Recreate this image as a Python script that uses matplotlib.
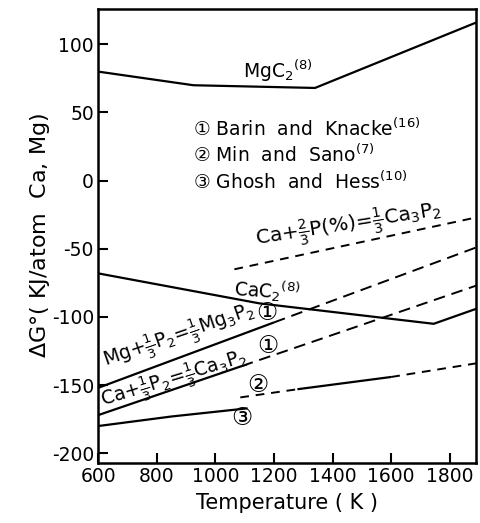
import matplotlib
matplotlib.use('Agg')
import matplotlib.pyplot as plt

plt.rcParams['font.family'] = ['DejaVu Sans', 'Noto Sans CJK SC']
plt.rcParams['mathtext.fontset'] = 'dejavusans'
plt.rcParams['axes.unicode_minus'] = False

# MgC2 (ref. 8)
mgc2_T = [600, 925, 1340, 1890]
mgc2_G = [80, 70, 68, 116]

# CaC2 (ref. 8)
cac2_T = [600, 1150, 1745, 1890]
cac2_G = [-68, -90, -105, -94]

# Mg + 1/3 P2 = 1/3 Mg3P2  (Barin and Knacke)
mgp_solid_T = [600, 1200]
mgp_solid_G = [-152, -104]
mgp_dash_T = [1200, 1890]
mgp_dash_G = [-104, -49]

# Ca + 1/3 P2 = 1/3 Ca3P2  (Barin and Knacke)
cap_solid_T = [600, 1090]
cap_solid_G = [-172, -136]
cap_dash_T = [1090, 1890]
cap_dash_G = [-136, -77]

# Min and Sano
min_dash1_T = [1085, 1280]
min_dash1_G = [-159, -153]
min_solid_T = [1280, 1600]
min_solid_G = [-153, -144]
min_dash2_T = [1600, 1890]
min_dash2_G = [-144, -134]

# Ghosh and Hess
gh_T = [600, 850, 1110]
gh_G = [-180, -173, -167]

# Ca + 2/3 P(%) = 1/3 Ca3P2
cap_pct_T = [1065, 1890]
cap_pct_G = [-65, -27]

fig = plt.figure(figsize=(4.81, 5.23), dpi=100)
ax = fig.add_axes([0.204, 0.115, 0.786, 0.868])

solid = dict(color='black', lw=1.6, solid_capstyle='butt')
dashed = dict(color='black', lw=1.4, linestyle=(0, (6, 3.5)))
short_dashed = dict(color='black', lw=1.4, linestyle=(0, (4.5, 3.5)))

ax.plot(mgc2_T, mgc2_G, **solid)
ax.plot(cac2_T, cac2_G, **solid)
ax.plot(mgp_solid_T, mgp_solid_G, **solid)
ax.plot(mgp_dash_T, mgp_dash_G, **dashed)
ax.plot(cap_solid_T, cap_solid_G, **solid)
ax.plot(cap_dash_T, cap_dash_G, **dashed)
ax.plot(min_dash1_T, min_dash1_G, **short_dashed)
ax.plot(min_solid_T, min_solid_G, **solid)
ax.plot(min_dash2_T, min_dash2_G, **short_dashed)
ax.plot(gh_T, gh_G, **solid)
ax.plot(cap_pct_T, cap_pct_G, **short_dashed)

ax.set_xlim(600, 1890)
ax.set_ylim(-207, 126)
ax.set_xticks([600, 800, 1000, 1200, 1400, 1600, 1800])
ax.set_yticks([-200, -150, -100, -50, 0, 50, 100])
ax.tick_params(direction='in', length=7, width=1.5, labelsize=13.5, pad=3)
for s in ax.spines.values():
    s.set_linewidth(1.8)

ax.set_xlabel('Temperature ( K )', fontsize=15, labelpad=5)
ax.set_ylabel(r'$\Delta$G°( KJ/atom  Ca, Mg)', fontsize=16, labelpad=0)

fs = 13.5
ax.text(1094, 75, r'MgC$_2$$^{(8)}$', fontsize=fs)
ax.text(1176, -81, r'CaC$_2$$^{(8)}$', fontsize=fs, ha='center', va='center', rotation=-4)

ax.text(925, 33, '① Barin  and  Knacke$^{(16)}$', fontsize=fs)
ax.text(925, 13.5, '② Min  and  Sano$^{(7)}$', fontsize=fs)
ax.text(925, -6, '③ Ghosh  and  Hess$^{(10)}$', fontsize=fs)

ax.text(1455, -33, r'Ca+$\frac{2}{3}$P(%)=$\frac{1}{3}$Ca$_3$P$_2$', fontsize=14.5,
        ha='center', va='center', rotation=9)
ax.text(877, -114, r'Mg+$\frac{1}{3}$P$_2$=$\frac{1}{3}$Mg$_3$P$_2$', fontsize=13.5,
        ha='center', va='center', rotation=19)
ax.text(862, -146, r'Ca+$\frac{1}{3}$P$_2$=$\frac{1}{3}$Ca$_3$P$_2$', fontsize=13.5,
        ha='center', va='center', rotation=17)

ax.text(1176, -97, '①', fontsize=17, ha='center', va='center')
ax.text(1179, -121, '①', fontsize=17, ha='center', va='center')
ax.text(1145, -150, '②', fontsize=17, ha='center', va='center')
ax.text(1091, -174, '③', fontsize=17, ha='center', va='center')

plt.savefig('out.png', dpi=100)
